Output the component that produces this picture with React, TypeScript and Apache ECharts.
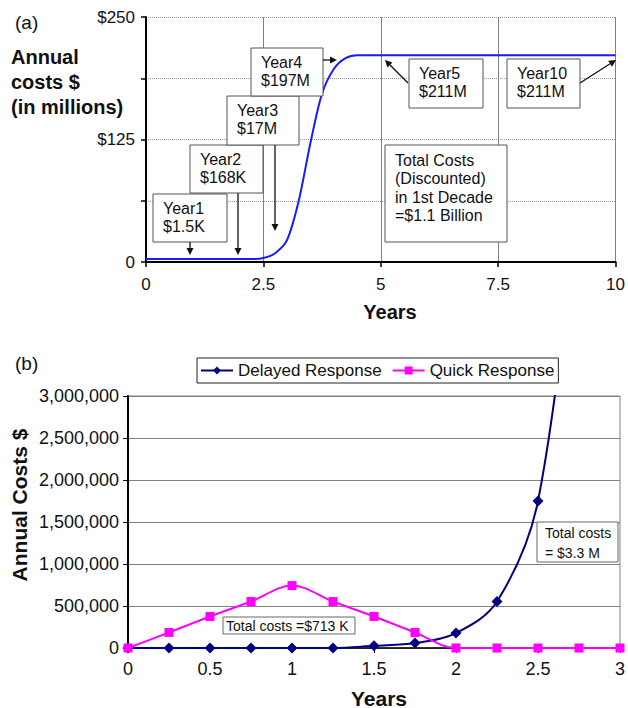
import React, { useEffect, useRef } from "react";
import * as echarts from "echarts";

// ---- Panel (a) data ----
const topYears = [0, 0.5, 1, 1.5, 2, 2.25, 2.5, 2.75, 3, 3.25, 3.5, 3.75, 4, 4.25, 4.5, 4.75, 5, 6, 7, 8, 9, 10];
const topCosts = [3, 3, 3, 3, 3, 3, 4, 9, 22, 62, 121, 172, 197, 208, 211, 211, 211, 211, 211, 211, 211, 211];
const topYTickLabels: Record<number, string> = { 0: "0", 125: "$125", 250: "$250" };

// ---- Panel (b) data ----
const bottomYears = [0, 0.25, 0.5, 0.75, 1, 1.25, 1.5, 1.75, 2, 2.25, 2.5, 2.75, 3];
const delayedResponse = [0, 0, 0, 0, 0, 0, 27000, 59000, 178000, 553000, 1750000, 5500000];
const quickResponse = [0, 185000, 375000, 553000, 743000, 553000, 375000, 185000, 0, 0, 0, 0, 0];
const seriesNames = ["Delayed Response", "Quick Response"];

const FONT = "Liberation Sans, Arial, Helvetica, sans-serif";

function arrow(x1: number, y1: number, x2: number, y2: number, color = "#111") {
  const dx = x2 - x1;
  const dy = y2 - y1;
  const len = Math.sqrt(dx * dx + dy * dy);
  const ux = dx / len;
  const uy = dy / len;
  const hl = 7;
  const hw = 3.5;
  const bx = x2 - ux * hl;
  const by = y2 - uy * hl;
  return {
    type: "group",
    z: 100,
    children: [
      { type: "line", z: 100, shape: { x1, y1, x2: bx, y2: by }, style: { stroke: color, lineWidth: 1.3 } },
      {
        type: "polygon",
        z: 100,
        shape: {
          points: [
            [x2, y2],
            [bx - uy * hw, by + ux * hw],
            [bx + uy * hw, by - ux * hw],
          ],
        },
        style: { fill: color },
      },
    ],
  };
}

function box(x: number, y: number, w: number, h: number, text: string, opts: any = {}) {
  const fontSize = opts.fontSize ?? 16;
  const lineHeight = opts.lineHeight ?? 18.5;
  return {
    type: "group",
    z: 100,
    children: [
      {
        type: "rect",
        z: 100,
        shape: { x, y, width: w, height: h },
        style: { fill: "#fff", stroke: opts.stroke ?? "#555", lineWidth: 1 },
      },
      {
        type: "text",
        z: 101,
        x: x + (opts.padX ?? 10),
        y: y + (opts.padY ?? 5),
        style: {
          text,
          fontSize,
          fontFamily: FONT,
          fill: "#111",
          lineHeight,
          verticalAlign: "top",
          align: "left",
        },
      },
    ],
  };
}

function label(x: number, y: number, text: string, size: number, bold = false, opts: any = {}) {
  return {
    type: "text",
    z: 100,
    x,
    y,
    style: {
      text,
      fontSize: size,
      fontFamily: FONT,
      fontWeight: bold ? "bold" : "normal",
      fill: "#111",
      align: opts.align ?? "left",
      verticalAlign: opts.verticalAlign ?? "middle",
      lineHeight: opts.lineHeight,
    },
  };
}

export default function App() {
  const ref = useRef<HTMLDivElement>(null);

  useEffect(() => {
    document.body.style.margin = "0";
    if (!ref.current) return;
    const chart = echarts.init(ref.current, null, { renderer: "svg" });

    const option: any = {
      animation: false,
      backgroundColor: "#fff",
      textStyle: { fontFamily: FONT },
      grid: [
        { left: 146, top: 17, width: 470, height: 245, show: false },
        { left: 128, top: 396, width: 493, height: 252, show: true, borderColor: "#808080", borderWidth: 1, backgroundColor: "transparent" },
      ],
      legend: {
        data: seriesNames,
        left: 197,
        top: 358,
        orient: "horizontal",
        borderColor: "#222",
        borderWidth: 1,
        padding: [4, 4, 4, 3],
        itemGap: 10,
        itemWidth: 32,
        itemHeight: 10,
        textStyle: { fontSize: 17, fontFamily: FONT, color: "#111" },
      },
      xAxis: [
        {
          gridIndex: 0,
          type: "value",
          min: 0,
          max: 10,
          interval: 2.5,
          axisLine: { show: true, onZero: false, lineStyle: { color: "#000", width: 2 } },
          axisTick: { show: true, length: 5, lineStyle: { color: "#000", width: 1.5 } },
          axisLabel: { fontSize: 17, color: "#111", margin: 14, fontFamily: FONT, formatter: (v: number) => String(v) },
          splitLine: { show: true, lineStyle: { color: "#808080", width: 1, type: "solid" } },
        },
        {
          gridIndex: 1,
          type: "value",
          min: 0,
          max: 3,
          interval: 0.5,
          axisLine: { show: true, onZero: false, lineStyle: { color: "#000", width: 1.5 } },
          axisTick: { show: true, length: 5, lineStyle: { color: "#000", width: 1 } },
          axisLabel: { fontSize: 18, color: "#111", margin: 12, fontFamily: FONT, formatter: (v: number) => String(v) },
          splitLine: { show: false },
        },
      ],
      yAxis: [
        {
          gridIndex: 0,
          type: "value",
          min: 0,
          max: 250,
          interval: 62.5,
          axisLine: { show: true, onZero: false, lineStyle: { color: "#000", width: 2 } },
          axisTick: { show: true, length: 5, lineStyle: { color: "#000", width: 1.5 } },
          axisLabel: {
            fontSize: 17,
            color: "#111",
            margin: 11,
            fontFamily: FONT,
            formatter: (v: number) => topYTickLabels[v] ?? "",
          },
          splitLine: { show: true, lineStyle: { color: "#9a9a9a", width: 1, type: "dotted" } },
        },
        {
          gridIndex: 1,
          type: "value",
          min: 0,
          max: 3000000,
          interval: 500000,
          axisLine: { show: true, onZero: false, lineStyle: { color: "#000", width: 2 } },
          axisTick: { show: true, length: 5, lineStyle: { color: "#000", width: 1 } },
          axisLabel: {
            fontSize: 18,
            color: "#111",
            margin: 9,
            fontFamily: FONT,
            formatter: (v: number) => v.toLocaleString("en-US"),
          },
          splitLine: { show: true, lineStyle: { color: "#808080", width: 1, type: "solid" } },
        },
      ],
      series: [
        {
          name: "Annual costs",
          type: "line",
          xAxisIndex: 0,
          yAxisIndex: 0,
          data: topYears.map((x, i) => [x, topCosts[i]]),
          smooth: 0.3,
          showSymbol: false,
          symbol: "none",
          lineStyle: { color: "#1a1aff", width: 2 },
          itemStyle: { color: "#1a1aff" },
          z: 3,
        },
        {
          name: seriesNames[0],
          type: "line",
          xAxisIndex: 1,
          yAxisIndex: 1,
          data: delayedResponse.map((v, i) => [bottomYears[i], v]),
          smooth: 0.35,
          symbol: "diamond",
          symbolSize: 11,
          lineStyle: { color: "#000080", width: 2 },
          itemStyle: { color: "#000080" },
          z: 3,
        },
        {
          name: seriesNames[1],
          type: "line",
          xAxisIndex: 1,
          yAxisIndex: 1,
          data: quickResponse.map((v, i) => [bottomYears[i], v]),
          smooth: 0.35,
          symbol: "rect",
          symbolSize: 9,
          lineStyle: { color: "#ff00ff", width: 2 },
          itemStyle: { color: "#ff00ff" },
          z: 4,
        },
      ],
      graphic: [
        // Panel (a) labels
        label(15, 22, "(a)", 19),
        label(11, 44, "Annual\ncosts $\n(in millions)", 20, true, { lineHeight: 25, verticalAlign: "top" }),
        label(390, 312, "Years", 20, true, { align: "center" }),
        // Panel (a) annotation boxes
        box(153, 194, 74, 48, "Year1\n$1.5K"),
        box(190, 145, 73, 48, "Year2\n$168K"),
        box(227, 96, 72, 49, "Year3\n$17M"),
        box(251, 48, 72, 48, "Year4\n$197M"),
        box(409, 59, 74, 49, "Year5\n$211M"),
        box(507, 59, 73, 49, "Year10\n$211M"),
        box(385, 145, 122, 97, "Total Costs\n(Discounted)\nin 1st Decade\n=$1.1 Billion", { padY: 6 }),
        arrow(190, 242, 190, 255),
        arrow(238, 193, 238, 255),
        arrow(275, 145, 275, 231),
        arrow(323, 60, 337, 60),
        arrow(408, 83, 385, 60),
        arrow(580, 83, 616, 60),
        // Panel (b) labels
        label(15, 363, "(b)", 19),
        label(379, 698, "Years", 21, true, { align: "center" }),
        {
          type: "text",
          z: 100,
          x: 19,
          y: 505,
          rotation: Math.PI / 2,
          style: {
            text: "Annual Costs $",
            fontSize: 21,
            fontFamily: FONT,
            fontWeight: "bold",
            fill: "#111",
            align: "center",
            verticalAlign: "middle",
          },
        },
        box(223, 617, 132, 17, "Total costs =$713 K", { fontSize: 14, lineHeight: 15, padX: 3, padY: 1, stroke: "#666" }),
        box(537, 522, 81, 40, "Total costs\n= $3.3 M", { fontSize: 14, lineHeight: 19.5, padX: 8, padY: 1.5, stroke: "#666" }),
      ],
    };

    chart.setOption(option);
    return () => chart.dispose();
  }, []);

  return <div ref={ref} style={{ width: 628, height: 708 }} />;
}
